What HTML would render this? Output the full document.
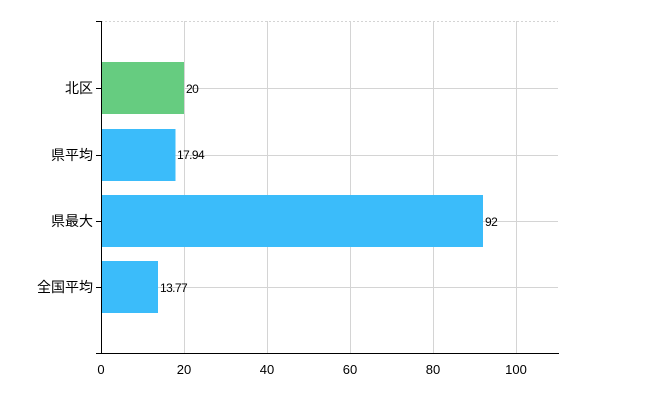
<!DOCTYPE html>
<html><head><meta charset="utf-8"><style>body{margin:0;background:#fff}</style></head><body>
<svg width="650" height="400" xmlns="http://www.w3.org/2000/svg" font-family="'Liberation Sans','Noto Sans CJK JP',sans-serif">
<g stroke="#d4d4d4" stroke-width="1">
<line x1="101" y1="21.5" x2="558" y2="21.5" stroke-dasharray="2,2"/>
<line x1="184.5" y1="21" x2="184.5" y2="353"/>
<line x1="267.5" y1="21" x2="267.5" y2="353"/>
<line x1="350.5" y1="21" x2="350.5" y2="353"/>
<line x1="433.5" y1="21" x2="433.5" y2="353"/>
<line x1="516.5" y1="21" x2="516.5" y2="353"/>
<line x1="101" y1="88.5" x2="558" y2="88.5"/>
<line x1="101" y1="155.5" x2="558" y2="155.5"/>
<line x1="101" y1="221.5" x2="558" y2="221.5"/>
<line x1="101" y1="287.5" x2="558" y2="287.5"/>
</g>
<rect x="101" y="62" width="83" height="52" fill="#66cc80"/>
<rect x="101" y="129" width="74.5" height="52" fill="#3bbcfa"/>
<rect x="101" y="195" width="382" height="52" fill="#3bbcfa"/>
<rect x="101" y="261" width="57" height="52" fill="#3bbcfa"/>
<g stroke="#000" stroke-width="1">
<line x1="101.5" y1="21" x2="101.5" y2="354"/>
<line x1="96" y1="353.5" x2="559" y2="353.5"/>
<line x1="96" y1="21.5" x2="101" y2="21.5"/>
<line x1="96" y1="88.5" x2="101" y2="88.5"/>
<line x1="96" y1="155.5" x2="101" y2="155.5"/>
<line x1="96" y1="221.5" x2="101" y2="221.5"/>
<line x1="96" y1="287.5" x2="101" y2="287.5"/>
</g>
<g font-size="14" text-anchor="end" fill="#000">
<text x="93" y="93">北区</text>
<text x="93" y="160">県平均</text>
<text x="93" y="226">県最大</text>
<text x="93" y="292">全国平均</text>
</g>
<g font-size="12" fill="#000" letter-spacing="-0.6">
<text x="186" y="93">20</text>
<text x="177" y="159">17.94</text>
<text x="485" y="226">92</text>
<text x="160" y="292">13.77</text>
</g>
<g font-size="13" text-anchor="middle" fill="#000">
<text x="101" y="374">0</text>
<text x="184" y="374">20</text>
<text x="267" y="374">40</text>
<text x="350" y="374">60</text>
<text x="433" y="374">80</text>
<text x="516" y="374">100</text>
</g>
</svg>
</body></html>
